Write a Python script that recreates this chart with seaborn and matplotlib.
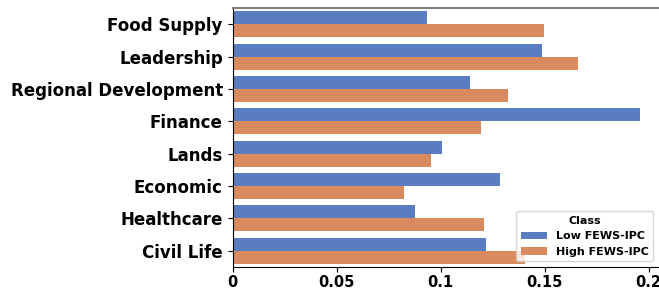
import pandas as pd
import matplotlib
matplotlib.use("Agg")
import matplotlib.pyplot as plt
import seaborn as sns

categories = ["Food Supply", "Leadership", "Regional Development", "Finance",
              "Lands", "Economic", "Healthcare", "Civil Life"]
low_values = [0.0935, 0.1488, 0.1142, 0.1959, 0.1007, 0.1286, 0.0877, 0.1219]
high_values = [0.1498, 0.1661, 0.1324, 0.1195, 0.0954, 0.0824, 0.1209, 0.1406]
classes = ["Low FEWS-IPC", "High FEWS-IPC"]

df = pd.DataFrame({
    "Feature": categories * 2,
    "Importance": low_values + high_values,
    "Class": [classes[0]] * len(categories) + [classes[1]] * len(categories),
})

fig = plt.figure(figsize=(6.59, 2.91), dpi=100)
ax = fig.add_axes([232.5 / 659, 24 / 291, 1 - 232.5 / 659, 259 / 291])

sns.barplot(data=df, y="Feature", x="Importance", hue="Class",
            palette="muted", order=categories, hue_order=classes, ax=ax)

ax.set_xlim(0, 0.205)
ax.set_xticks([0, 0.05, 0.1, 0.15, 0.2])
ax.set_xticklabels(["0", "0.05", "0.1", "0.15", "0.2"])
ax.set_xlabel("")
ax.set_ylabel("")
ax.tick_params(axis="x", pad=2)
for lab in ax.get_yticklabels():
    lab.set_fontsize(12)
    lab.set_fontweight("bold")
for lab in ax.get_xticklabels():
    lab.set_fontsize(10.5)
    lab.set_fontweight("bold")

ax.spines["right"].set_visible(False)
ax.spines["top"].set_color("#808080")
ax.spines["top"].set_linewidth(1.5)

leg = ax.legend(title="Class", loc="lower right", handlelength=2.4,
                title_fontsize=8, prop={"weight": "bold", "size": 8})
leg.get_title().set_fontweight("bold")

fig.savefig("out.png", dpi=100)
